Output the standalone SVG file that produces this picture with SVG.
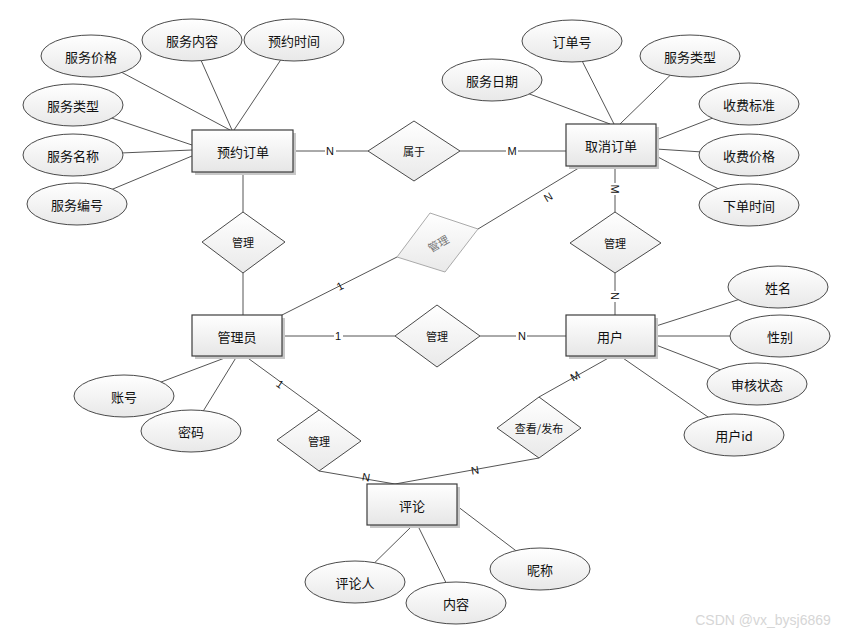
<svg xmlns="http://www.w3.org/2000/svg" width="847" height="635" viewBox="0 0 847 635">
<defs>
<linearGradient id="gEnt" x1="0" y1="0" x2="0" y2="1"><stop offset="0" stop-color="#ffffff"/><stop offset="1" stop-color="#e6e6e6"/></linearGradient>
<linearGradient id="gDia" x1="0" y1="0" x2="0" y2="1"><stop offset="0" stop-color="#ffffff"/><stop offset="1" stop-color="#e9e9e9"/></linearGradient>
<linearGradient id="gEll" x1="0" y1="0" x2="0" y2="1"><stop offset="0" stop-color="#ffffff"/><stop offset="1" stop-color="#e8e8e8"/></linearGradient>
<style>
.ent{fill:url(#gEnt);stroke:#3c3c3c;stroke-width:1.2}
.sh{fill:#c8c8c8}
.dia{fill:url(#gDia);stroke:#4a4a4a;stroke-width:1}
.ell{fill:url(#gEll);stroke:#4a4a4a;stroke-width:1}
.ln{stroke:#555;stroke-width:1;fill:none}
.t{font-family:"Noto Sans CJK SC","Noto Sans",sans-serif;font-size:13px;fill:#111;text-anchor:middle;dominant-baseline:central}
.ts{font-family:"Noto Sans CJK SC","Noto Sans",sans-serif;font-size:11px;fill:#111;text-anchor:middle;dominant-baseline:central}
.lb{font-family:"Liberation Sans",Arial,sans-serif;font-size:11px;fill:#111;text-anchor:middle;dominant-baseline:central}
.bg{fill:#fff}
</style>
</defs>
<rect width="847" height="635" fill="#fff"/>
<g id="connectors">
<line class="ln" x1="91" y1="56" x2="230" y2="130"/>
<line class="ln" x1="192" y1="40" x2="232" y2="130"/>
<line class="ln" x1="294" y1="40" x2="234" y2="130"/>
<line class="ln" x1="73" y1="105" x2="192" y2="145"/>
<line class="ln" x1="73" y1="155" x2="192" y2="150"/>
<line class="ln" x1="77" y1="204" x2="192" y2="156"/>
<line class="ln" x1="293" y1="151" x2="368" y2="151"/>
<line class="ln" x1="460" y1="151" x2="566" y2="151"/>
<line class="ln" x1="572" y1="41" x2="614" y2="124"/>
<line class="ln" x1="690" y1="56" x2="620" y2="124"/>
<line class="ln" x1="492" y1="80" x2="610" y2="124"/>
<line class="ln" x1="749" y1="104" x2="656" y2="140"/>
<line class="ln" x1="749" y1="155" x2="656" y2="149"/>
<line class="ln" x1="749" y1="205" x2="656" y2="156"/>
<line class="ln" x1="615" y1="166" x2="615" y2="212"/>
<line class="ln" x1="615" y1="273" x2="615" y2="315"/>
<line class="ln" x1="243" y1="172" x2="243" y2="212"/>
<line class="ln" x1="243" y1="273" x2="243" y2="315"/>
<line class="ln" x1="282" y1="315" x2="397" y2="257"/>
<line class="ln" x1="478" y1="229" x2="582" y2="166"/>
<line class="ln" x1="282" y1="336" x2="395" y2="336"/>
<line class="ln" x1="480" y1="336" x2="566" y2="336"/>
<line class="ln" x1="778" y1="287" x2="656" y2="326"/>
<line class="ln" x1="780" y1="336" x2="656" y2="336"/>
<line class="ln" x1="757" y1="384" x2="656" y2="345"/>
<line class="ln" x1="734" y1="435" x2="620" y2="356"/>
<line class="ln" x1="612" y1="356" x2="539" y2="397"/>
<line class="ln" x1="539" y1="458" x2="395" y2="484"/>
<line class="ln" x1="124" y1="396" x2="230" y2="356"/>
<line class="ln" x1="191" y1="431" x2="237" y2="356"/>
<line class="ln" x1="245" y1="356" x2="319" y2="410"/>
<line class="ln" x1="319" y1="471" x2="395" y2="484"/>
<line class="ln" x1="355" y1="582" x2="412" y2="526"/>
<line class="ln" x1="456" y1="603" x2="418" y2="526"/>
<line class="ln" x1="540" y1="569" x2="457" y2="506"/>
<rect class="bg" x="325" y="144" width="11" height="14"/><text class="lb" x="330" y="151">N</text>
<rect class="bg" x="506" y="144" width="12" height="14"/><text class="lb" x="512" y="151">M</text>
<rect class="bg" x="608" y="183" width="14" height="12"/><text class="lb" x="615" y="189" transform="rotate(90 615 189)">M</text>
<rect class="bg" x="608" y="291" width="14" height="11"/><text class="lb" x="615" y="296" transform="rotate(90 615 296)">N</text>
<text class="lb" x="340" y="286" transform="rotate(-27 340 286)">1</text>
<text class="lb" x="548" y="197" transform="rotate(-31 548 197)">N</text>
<rect class="bg" x="334" y="329" width="9" height="14"/><text class="lb" x="338" y="336">1</text>
<rect class="bg" x="516" y="329" width="11" height="14"/><text class="lb" x="522" y="336">N</text>
<text class="lb" x="575" y="376" transform="rotate(-29 575 376)">M</text>
<text class="lb" x="475" y="470" transform="rotate(-10 475 470)">N</text>
<text class="lb" x="280" y="384" transform="rotate(36 280 384)">1</text>
<text class="lb" x="366" y="477" transform="rotate(10 366 477)">N</text>
</g>
<g id="e_yuyue"><rect class="sh" x="195" y="133" width="101" height="42"/><rect class="ent" x="192" y="130" width="101" height="42"/><text class="t" x="243" y="151">预约订单</text></g>
<g id="e_quxiao"><rect class="sh" x="569" y="127" width="90" height="42"/><rect class="ent" x="566" y="124" width="90" height="42"/><text class="t" x="611" y="145">取消订单</text></g>
<g id="e_admin"><rect class="sh" x="195" y="318" width="90" height="41"/><rect class="ent" x="192" y="315" width="90" height="41"/><text class="t" x="237" y="336">管理员</text></g>
<g id="e_user"><rect class="sh" x="569" y="318" width="89" height="41"/><rect class="ent" x="566" y="315" width="89" height="41"/><text class="t" x="610" y="336">用户</text></g>
<g id="e_comment"><rect class="sh" x="370" y="487" width="90" height="41"/><rect class="ent" x="367" y="484" width="90" height="41"/><text class="t" x="412" y="505">评论</text></g>
<g id="r_shuyu"><polygon class="dia" points="414,121 460,151 414,181 368,151"/><text class="ts" x="414" y="151">属于</text></g>
<g id="r_guanli1"><polygon class="dia" points="243,212 285,242 243,273 202,242"/><text class="ts" x="243" y="242">管理</text></g>
<g id="r_guanli2"><polygon points="430,213 478,229 445,272 397,257" fill="url(#gDia)" stroke="#aaa" stroke-width="1"/><text class="ts" x="438" y="243" style="fill:#777" transform="rotate(-30 438 243)">管理</text></g>
<g id="r_guanli3"><polygon class="dia" points="615,212 661,243 615,273 570,243"/><text class="ts" x="615" y="243">管理</text></g>
<g id="r_guanli4"><polygon class="dia" points="437,305 480,336 437,367 395,336"/><text class="ts" x="437" y="336">管理</text></g>
<g id="r_guanli5"><polygon class="dia" points="319,410 361,441 319,471 277,440"/><text class="ts" x="319" y="441">管理</text></g>
<g id="r_chakan"><polygon class="dia" points="539,397 581,428 539,458 497,428"/><text class="ts" x="539" y="428">查看/发布</text></g>
<g id="a1"><ellipse class="ell" cx="91" cy="56" rx="50" ry="21"/><text class="t" x="91" y="56">服务价格</text></g>
<g id="a2"><ellipse class="ell" cx="192" cy="40" rx="50" ry="21"/><text class="t" x="192" y="40">服务内容</text></g>
<g id="a3"><ellipse class="ell" cx="294" cy="40" rx="50" ry="21"/><text class="t" x="294" y="40">预约时间</text></g>
<g id="a4"><ellipse class="ell" cx="73" cy="105" rx="50" ry="21"/><text class="t" x="73" y="105">服务类型</text></g>
<g id="a5"><ellipse class="ell" cx="73" cy="155" rx="50" ry="21"/><text class="t" x="73" y="155">服务名称</text></g>
<g id="a6"><ellipse class="ell" cx="77" cy="204" rx="50" ry="21"/><text class="t" x="77" y="204">服务编号</text></g>
<g id="a7"><ellipse class="ell" cx="572" cy="41" rx="50" ry="21"/><text class="t" x="572" y="41">订单号</text></g>
<g id="a8"><ellipse class="ell" cx="690" cy="56" rx="50" ry="21"/><text class="t" x="690" y="56">服务类型</text></g>
<g id="a9"><ellipse class="ell" cx="492" cy="80" rx="50" ry="21"/><text class="t" x="492" y="80">服务日期</text></g>
<g id="a10"><ellipse class="ell" cx="749" cy="104" rx="50" ry="21"/><text class="t" x="749" y="104">收费标准</text></g>
<g id="a11"><ellipse class="ell" cx="749" cy="155" rx="50" ry="21"/><text class="t" x="749" y="155">收费价格</text></g>
<g id="a12"><ellipse class="ell" cx="749" cy="205" rx="50" ry="21"/><text class="t" x="749" y="205">下单时间</text></g>
<g id="a13"><ellipse class="ell" cx="778" cy="287" rx="50" ry="21"/><text class="t" x="778" y="287">姓名</text></g>
<g id="a14"><ellipse class="ell" cx="780" cy="336" rx="50" ry="21"/><text class="t" x="780" y="336">性别</text></g>
<g id="a15"><ellipse class="ell" cx="757" cy="384" rx="50" ry="21"/><text class="t" x="757" y="384">审核状态</text></g>
<g id="a16"><ellipse class="ell" cx="734" cy="435" rx="50" ry="21"/><text class="t" x="734" y="435">用户id</text></g>
<g id="a17"><ellipse class="ell" cx="124" cy="396" rx="50" ry="21"/><text class="t" x="124" y="396">账号</text></g>
<g id="a18"><ellipse class="ell" cx="191" cy="431" rx="50" ry="21"/><text class="t" x="191" y="431">密码</text></g>
<g id="a19"><ellipse class="ell" cx="355" cy="582" rx="50" ry="21"/><text class="t" x="355" y="582">评论人</text></g>
<g id="a20"><ellipse class="ell" cx="456" cy="603" rx="50" ry="21"/><text class="t" x="456" y="603">内容</text></g>
<g id="a21"><ellipse class="ell" cx="540" cy="569" rx="50" ry="21"/><text class="t" x="540" y="569">昵称</text></g>
<text x="763" y="620" style="font-family:'Liberation Sans',Arial,sans-serif;font-size:14px;fill:#d6d6d6;text-anchor:middle;dominant-baseline:central">CSDN @vx_bysj6869</text>
</svg>
